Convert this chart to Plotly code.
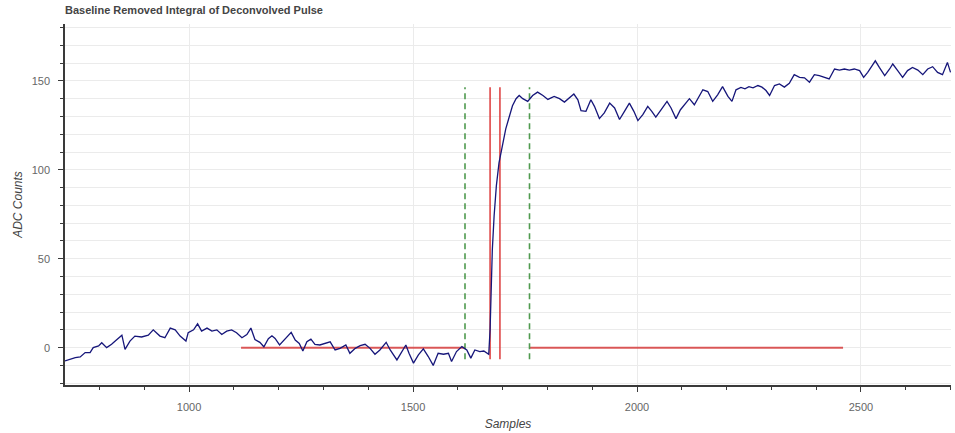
import plotly.graph_objects as go

# ---- data ----
samples = [723, 734, 746, 757, 768, 779, 786, 798, 805, 816, 827, 839, 850, 857, 868, 879, 894, 909, 920, 935,
           946, 958, 969, 980, 993, 998, 1010, 1019, 1028, 1040, 1051, 1062, 1073, 1084, 1095, 1106, 1118, 1129,
           1138, 1147, 1158, 1167, 1177, 1185, 1192, 1202, 1212, 1228, 1237, 1246, 1254, 1263, 1272, 1281, 1292,
           1304, 1315, 1326, 1337, 1350, 1359, 1371, 1382, 1393, 1404, 1415, 1426, 1440, 1449, 1464, 1475, 1484,
           1491, 1501, 1512, 1523, 1534, 1545, 1556, 1568, 1579, 1586, 1597, 1609, 1620, 1629, 1638, 1649, 1658,
           1669, 1672, 1674, 1677, 1681, 1686, 1692, 1700, 1707, 1715, 1722, 1730, 1737, 1745, 1756, 1767, 1778,
           1790, 1801, 1815, 1827, 1838, 1849, 1859, 1868, 1875, 1886, 1897, 1905, 1916, 1927, 1939, 1950, 1961,
           1972, 1983, 1993, 2002, 2013, 2024, 2033, 2042, 2054, 2067, 2076, 2087, 2097, 2106, 2117, 2128, 2139,
           2147, 2158, 2169, 2180, 2191, 2203, 2212, 2221, 2232, 2241, 2250, 2259, 2270, 2279, 2288, 2296, 2307,
           2318, 2329, 2340, 2351, 2363, 2374, 2385, 2396, 2407, 2418, 2429, 2441, 2452, 2463, 2474, 2485, 2497,
           2506, 2515, 2525, 2532, 2541, 2553, 2564, 2571, 2582, 2593, 2604, 2615, 2627, 2638, 2649, 2660, 2671,
           2682, 2693, 2700]
adc_counts = [-7.4, -6.5, -5.6, -5.2, -2.8, -2.8, 0.0, 1.0, 2.8, 0.0, 1.9, 4.6, 7.0, -1.0, 3.7, 6.5, 6.0, 7.0, 10.0, 6.5,
              5.6, 11.0, 10.0, 6.5, 3.7, 8.4, 10.0, 13.4, 9.3, 11.0, 9.3, 10.0, 7.4, 9.3, 10.0, 8.4, 5.6, 7.4,
              11.0, 4.6, 3.0, 0.5, 5.0, 6.7, 5.2, 1.5, 4.3, 8.6, 4.3, 2.4, -1.9, 3.3, 4.8, 1.9, 1.5,
              2.4, 3.3, -1.3, -0.4, 1.5, -3.2, -0.4, 1.1, 1.9, -0.4, -3.7, -1.3, 3.0, -1.3, -6.9, -2.2, 1.5,
              -3.2, -8.7, -4.1, -0.7, -5.0, -10.0, -3.2, -3.7, -3.2, -7.8, -2.2, 0.6, -1.3, -5.9, -1.3, -2.2, -1.9,
              -3.7, 10.0, 30.0, 55.0, 74.0, 91.0, 104.0, 114.0, 123.0, 130.0, 136.0, 140.0, 141.8, 140.0, 138.5, 141.8, 143.7,
              141.8, 139.6, 141.3, 140.0, 138.1, 140.3, 142.6, 139.4, 133.3, 132.9, 139.4, 135.7, 128.8, 132.0, 137.5, 134.8, 128.3,
              132.9, 137.5, 132.9, 127.7, 131.0, 135.7, 132.9, 129.6, 133.8, 138.5, 134.8, 128.8, 133.8, 136.6, 140.0, 136.6, 141.3,
              145.0, 144.0, 138.5, 142.2, 146.8, 141.3, 138.5, 145.0, 146.3, 145.5, 146.8, 146.1, 147.4, 146.5, 144.6, 141.8, 147.4,
              148.3, 146.5, 148.7, 153.5, 152.0, 151.7, 149.3, 153.5, 153.0, 152.0, 151.1, 156.7, 156.1, 156.7, 156.1, 156.7, 155.8,
              152.0, 154.8, 158.6, 161.3, 157.6, 153.0, 156.7, 159.5, 155.8, 152.0, 155.8, 157.6, 156.1, 153.5, 156.7, 158.0, 154.8,
              153.5, 160.4, 154.8]

window_markers = [1616, 1760]      # green dashed
edge_markers = [1672, 1694]        # red solid
marker_span = [-6.5, 146.5]        # vertical extent of marker lines
baseline_windows = [(1116, 1616), (1760, 2460)]
baseline_level = 0

title_text = "Baseline Removed Integral of Deconvolved Pulse"
x_title = "Samples"
y_title = "ADC Counts"

# ---- build figure ----
fig = go.Figure()

def vlines(xs, span):
    vx, vy = [], []
    for x in xs:
        vx += [x, x, None]
        vy += [span[0], span[1], None]
    return vx, vy

bx, by = [], []
for a, b in baseline_windows:
    bx += [a, b, None]
    by += [baseline_level, baseline_level, None]

fig.add_trace(go.Scatter(x=bx, y=by, mode="lines",
                         line=dict(color="rgba(214,60,60,0.85)", width=2), hoverinfo="skip"))

gx, gy = vlines(window_markers, marker_span)
fig.add_trace(go.Scatter(x=gx, y=gy, mode="lines",
                         line=dict(color="#4f9a4f", width=1.6, dash="6px,4px"), hoverinfo="skip"))

rx, ry = vlines(edge_markers, marker_span)
fig.add_trace(go.Scatter(x=rx, y=ry, mode="lines",
                         line=dict(color="#dd3b3b", width=1.5), hoverinfo="skip"))

fig.add_trace(go.Scatter(x=samples, y=adc_counts, mode="lines",
                         line=dict(color="#16167a", width=1.3)))

grid_c = "#ebebeb"
tick_font = dict(family="Liberation Sans, Arial, sans-serif", size=11, color="#666666")
title_font = dict(family="Liberation Sans, Arial, sans-serif", size=12, color="#444444", style="italic")

fig.update_layout(
    width=955, height=433,
    margin=dict(l=65, r=4, t=24, b=44),
    paper_bgcolor="white", plot_bgcolor="white",
    showlegend=False,
    title=dict(text="<b>" + title_text + "</b>", x=65 / 955, xanchor="left", xref="container",
               y=1 - 10 / 433, yanchor="middle", yref="container",
               font=dict(family="Liberation Sans, Arial, sans-serif", size=11, color="#444444")),
    xaxis=dict(range=[723, 2701], dtick=500, tick0=0, showgrid=True, gridcolor=grid_c, gridwidth=1,
               zeroline=False, showline=True, linecolor="#3a3a3a", linewidth=1.5,
               ticks="outside", ticklen=5, tickcolor="#3a3a3a", tickwidth=1.3,
               minor=dict(dtick=100, tick0=0, ticks="outside", ticklen=3, tickcolor="#3a3a3a", showgrid=False),
               tickfont=tick_font, ticklabelstandoff=6,
               title=dict(text=x_title, font=title_font, standoff=8)),
    yaxis=dict(range=[-21, 182], dtick=50, tick0=0, showgrid=True, gridcolor=grid_c, gridwidth=1,
               zeroline=False, showline=True, linecolor="#3a3a3a", linewidth=1.5,
               ticks="outside", ticklen=5, tickcolor="#3a3a3a", tickwidth=1.3,
               minor=dict(dtick=10, tick0=0, ticks="outside", ticklen=3, tickcolor="#3a3a3a",
                          showgrid=True, gridcolor=grid_c, gridwidth=1),
               tickfont=tick_font, ticklabelstandoff=6,
               title=dict(text=y_title, font=title_font, standoff=6)),
)

fig.write_html("out.html")
